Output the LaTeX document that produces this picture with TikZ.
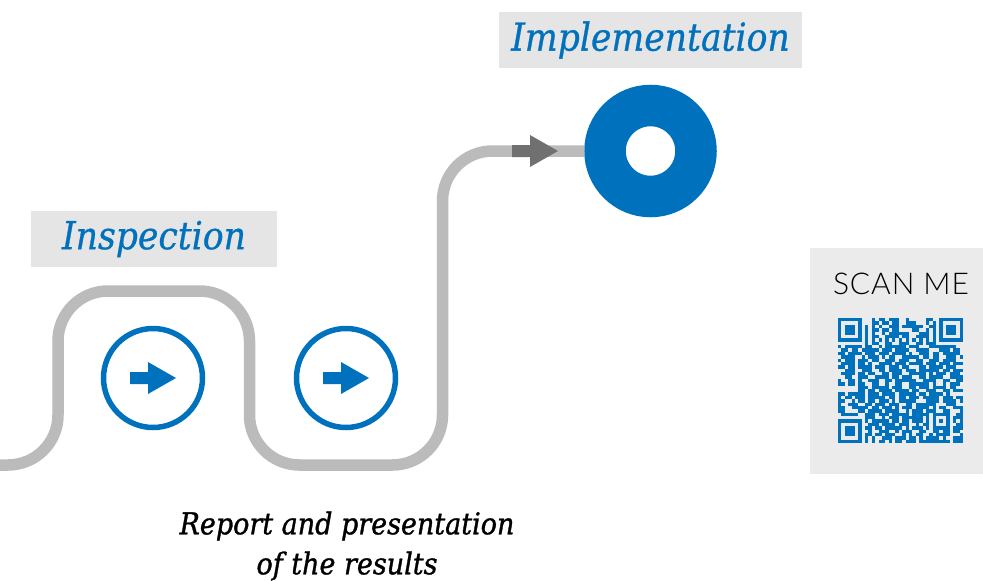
\documentclass[tikz,border=0pt]{standalone}
\usepackage{fontspec}
\setmainfont{DejaVu Serif Condensed}[ItalicFeatures={FakeBold=0.7}]
\newfontfamily\reportfont{DejaVu Serif Condensed Italic}[FakeBold=1.1]
\newfontfamily\scanfont[LetterSpace=3]{Lato Light}
\definecolor{stepblue}{HTML}{0071BC}
\definecolor{trackgray}{HTML}{BBBBBB}
\definecolor{markgray}{HTML}{707070}
\definecolor{labelgray}{HTML}{E5E5E5}
\definecolor{panelgray}{HTML}{EBEBEB}
\tikzset{
  track/.style={draw=trackgray, line width=11.5pt},
  title/.style={fill=labelgray, text=stepblue, font=\fontsize{38.5}{46}\selectfont\itshape,
    minimum height=56pt, inner sep=0pt},
  stepring/.style={draw=stepblue, circle, line width=5.5pt, minimum size=99pt, inner sep=0pt}
}
\begin{document}
\begin{tikzpicture}[x=1pt, y=-1pt]
  \useasboundingbox (0, 0) rectangle (983, 581);

  \coordinate (start) at (0, 465);
  \node[draw=stepblue, circle, line width=41.5pt, minimum size=91pt, inner sep=0pt] (goal) at (650.5, 151) {};

  \draw[track, rounded corners=50pt] (start) -- (58, 465) -- (58, 291) -- (249.5, 291)
    -- (249.5, 465) -- (442.5, 465) -- (442.5, 151) -- (goal.west);

  \fill[markgray] (512, 145) -- (530, 145) -- (530, 135) -- (558, 151)
    -- (530, 167) -- (530, 157) -- (512, 157) -- cycle;

  \node[title, minimum width=303pt] (impl) at (650.5, 40) {\raisebox{-2pt}{Implementation}};
  \node[title, minimum width=246pt] (insp) at (154, 239) {\raisebox{-2pt}{Inspection}};

  \foreach \sx/\sname in {153/stepa, 346/stepb} {
    \node[stepring] (\sname) at (\sx, 378) {};
    \fill[stepblue] (\sx-23, 372) -- (\sx-5, 372) -- (\sx-5, 362) -- (\sx+23, 378)
      -- (\sx-5, 394) -- (\sx-5, 384) -- (\sx-23, 384) -- cycle;
  }

  \node[align=center, font=\fontsize{30}{40}\selectfont\reportfont] (report) at (347, 546)
    {Report and presentation\\of the results};

  \node[fill=panelgray, minimum width=173pt, minimum height=226pt] (panel) at (896.5, 361) {};
  \node[font=\fontsize{30}{36}\selectfont\scanfont] (scan) at (901, 284) {SCAN ME};

  % code rows: row/{first column/run length}
  \foreach \qy/\qruns in {
    0/{0/7,10/1,12/2,15/3,20/1,26/2,30/7},
    1/{0/1,6/1,10/2,13/2,16/2,20/3,26/1,28/1,30/1,36/1},
    2/{0/1,2/3,6/1,8/1,10/1,12/1,15/3,19/6,27/2,30/1,32/3,36/1},
    3/{0/1,2/3,6/1,8/1,10/2,13/2,16/2,22/2,26/1,28/1,30/1,32/3,36/1},
    4/{0/1,2/3,6/1,8/1,10/1,13/1,15/3,18/3,24/3,28/1,30/1,32/3,36/1},
    5/{0/1,6/1,8/1,10/2,14/4,19/2,23/4,28/1,30/1,36/1},
    6/{0/7,8/1,10/1,12/1,14/1,16/1,18/1,20/1,22/1,24/1,26/1,28/1,30/7},
    7/{8/1,10/2,14/2,18/3,23/2,26/3},
    8/{0/1,2/5,8/2,12/1,14/6,21/3,27/8},
    9/{1/2,4/2,7/4,11/1,13/3,17/2,19/2,23/4,30/3,34/2},
    10/{0/2,3/3,6/1,8/3,12/3,16/4,21/1,24/3,28/2,31/5},
    11/{1/4,7/1,9/3,13/1,15/2,19/5,25/2,28/2,32/3,36/1},
    12/{0/1,2/3,6/3,10/2,14/3,18/3,23/2,27/3,31/4},
    13/{1/4,6/2,9/1,12/3,15/1,17/3,21/4,26/3,30/3,34/3},
    14/{0/2,3/2,6/4,11/3,15/3,19/2,24/2,27/4,32/3},
    15/{2/3,7/3,12/2,15/4,20/3,24/6,31/2,34/3},
    16/{1/4,6/2,9/2,13/2,16/3,21/5,27/1,29/3,33/3},
    17/{2/2,6/3,11/4,16/2,19/3,24/2,27/4,33/4},
    18/{0/1,3/2,6/1,9/3,14/2,17/6,25/4,31/2,35/2},
    19/{0/2,3/2,6/2,10/2,14/1,17/2,21/6,28/1,31/1,33/3},
    20/{6/3,10/3,13/2,16/3,21/2,24/3,28/4,33/2},
    21/{6/2,9/2,12/4,17/4,22/2,26/3,31/2,34/3},
    22/{0/2,3/5,9/3,13/4,18/5,24/2,27/4,32/1},
    23/{0/1,2/2,5/3,9/5,15/2,18/2,21/3,25/5,31/3,35/2},
    24/{0/2,4/1,6/2,9/2,12/3,16/1,18/2,20/3,26/4,31/4,36/1},
    25/{0/1,3/3,8/2,11/3,15/3,20/2,23/6,32/3},
    26/{0/2,4/5,10/2,13/3,17/1,19/3,23/4,28/1,30/2,34/3},
    27/{0/2,6/2,9/4,14/4,20/1,22/3,26/3,31/2,36/1},
    28/{1/5,8/3,12/3,16/5,22/5,28/5,35/2},
    29/{8/3,13/1,15/3,19/6,26/1,28/1,32/1,34/3},
    30/{0/7,8/1,10/5,16/2,19/2,22/3,26/1,28/1,30/1,32/1,34/1,36/1},
    31/{0/1,6/1,9/3,13/4,18/3,23/1,25/2,28/1,32/1,35/2},
    32/{0/1,2/3,6/1,8/2,11/2,14/5,20/1,22/3,26/1,28/5,34/3},
    33/{0/1,2/3,6/1,9/1,12/3,17/1,19/3,24/2,28/2,31/2,34/2},
    34/{0/1,2/3,6/1,8/2,11/2,14/3,19/1,21/1,23/2,27/1,29/4,36/1},
    35/{0/1,6/1,8/1,10/1,13/3,17/3,21/2,24/1,26/4,31/1,34/3},
    36/{0/7,8/1,10/1,12/2,15/1,17/2,20/3,24/4,28/4,32/1,34/3}} {
    \foreach \qx/\qlen in \qruns {
      \fill[stepblue] (838+3.38*\qx, 318+3.38*\qy) rectangle ++(3.38*\qlen, 3.38);
    }
  }
\end{tikzpicture}
\end{document}
